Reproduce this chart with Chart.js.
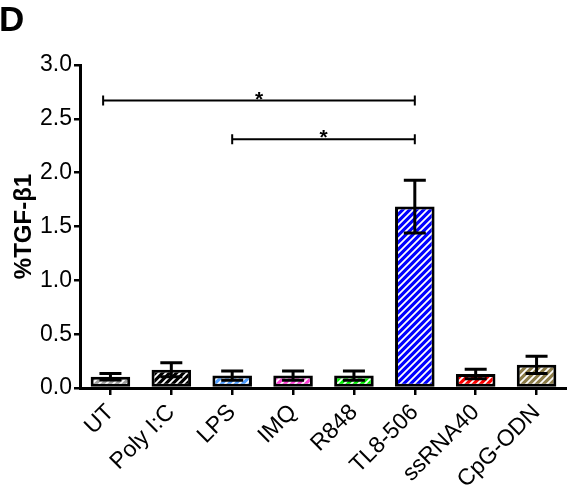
<!DOCTYPE html>
<html>
<head>
<meta charset="utf-8">
<script src="https://cdn.jsdelivr.net/npm/chart.js@4"></script>
<style>
  html, body { margin: 0; padding: 0; background: #fff; }
  #wrap { width: 567px; height: 502px; position: relative; }
</style>
</head>
<body>
<div id="wrap"><canvas id="chart" width="567" height="502"></canvas></div>
<script>
// --- DATA ---
const categories = ["UT", "Poly I:C", "LPS", "IMQ", "R848", "TL8-506", "ssRNA40", "CpG-ODN"];
const means = [0.105, 0.17, 0.115, 0.115, 0.115, 1.685, 0.13, 0.215];
const errors = [0.03, 0.065, 0.042, 0.042, 0.042, 0.245, 0.045, 0.08];
const barColors = ["#a0a0a0", "#000000", "#4f9dff", "#ff3ed6", "#00f000", "#0000ff", "#ff0000", "#8c7c48"];
const yTicks = [0, 0.5, 1.0, 1.5, 2.0, 2.5, 3.0];
// significance brackets: from category, to category, height, label
const brackets = [
    { from: -0.12, to: 5, y: 2.67, label: "*" },
    { from: 2, to: 5, y: 2.31, label: "*" }
];

// hatched fill: colour with white "/" stripes
function hatch(color) {
    const c = document.createElement("canvas");
    c.width = 7; c.height = 7;
    const g = c.getContext("2d");
    g.fillStyle = color;
    g.fillRect(0, 0, 7, 7);
    g.strokeStyle = "#ffffff";
    g.lineWidth = 1.8;
    g.beginPath();
    g.moveTo(-1, 8); g.lineTo(8, -1);
    g.moveTo(-4, 4); g.lineTo(4, -4);
    g.moveTo(3, 11); g.lineTo(11, 3);
    g.stroke();
    return g.createPattern(c, "repeat");
}

// error bars + brackets + panel letter
const extrasPlugin = {
    id: "extras",
    afterDatasetsDraw(chart) {
        const ctx = chart.ctx;
        const x = chart.scales.x, y = chart.scales.y;
        ctx.save();
        ctx.strokeStyle = "#000";
        ctx.lineWidth = 3;
        means.forEach((m, i) => {
            const px = x.getPixelForValue(i);
            const top = y.getPixelForValue(m + errors[i]);
            const bot = y.getPixelForValue(m - errors[i]);
            const cap = 11;
            ctx.beginPath();
            ctx.moveTo(px, top); ctx.lineTo(px, bot);
            ctx.moveTo(px - cap, top); ctx.lineTo(px + cap, top);
            ctx.moveTo(px - cap, bot); ctx.lineTo(px + cap, bot);
            ctx.stroke();
        });

        ctx.lineWidth = 2;
        ctx.fillStyle = "#000";
        ctx.font = "bold 21px 'Liberation Sans', Arial, sans-serif";
        ctx.textAlign = "center";
        ctx.textBaseline = "alphabetic";
        brackets.forEach(b => {
            const x1 = x.getPixelForValue(b.from);
            const x2 = x.getPixelForValue(b.to);
            const py = y.getPixelForValue(b.y);
            ctx.beginPath();
            ctx.moveTo(x1, py); ctx.lineTo(x2, py);
            ctx.moveTo(x1, py - 5); ctx.lineTo(x1, py + 5);
            ctx.moveTo(x2, py - 5); ctx.lineTo(x2, py + 5);
            ctx.stroke();
            ctx.fillText(b.label, (x1 + x2) / 2, py + 5);
        });

        ctx.font = "bold 35px 'Liberation Sans', Arial, sans-serif";
        ctx.textAlign = "left";
        ctx.textBaseline = "alphabetic";
        ctx.fillText("D", -1, 31);
        ctx.restore();
    }
};

const tickFont = { family: "'Liberation Sans', Arial, sans-serif", size: 23 };

new Chart(document.getElementById("chart"), {
    type: "bar",
    data: {
        labels: categories,
        datasets: [{
            data: means,
            backgroundColor: barColors.map(hatch),
            borderColor: "#000",
            borderWidth: 3,
            borderSkipped: false,
            categoryPercentage: 1,
            barPercentage: 0.65
        }]
    },
    options: {
        responsive: false,
        animation: false,
        devicePixelRatio: 1,
        layout: { padding: { top: 65, right: 0, left: 0, bottom: 0 } },
        plugins: { legend: { display: false }, tooltip: { enabled: false } },
        scales: {
            x: {
                offset: true,
                grid: { display: true, offset: false, drawOnChartArea: false, drawTicks: true, tickLength: 7, color: "#000", lineWidth: 2.5 },
                border: { display: true, color: "#000", width: 3 },
                ticks: { color: "#000", font: { family: tickFont.family, size: 23 }, maxRotation: 45, minRotation: 45, autoSkip: false, padding: 4 },
                afterFit(scale) { scale.height = 114; }
            },
            y: {
                min: 0,
                max: 3,
                afterBuildTicks(scale) { scale.ticks = yTicks.map(v => ({ value: v })); },
                grid: { display: true, drawOnChartArea: false, drawTicks: true, tickLength: 6, color: "#000", lineWidth: 2.5 },
                border: { display: true, color: "#000", width: 3 },
                ticks: { color: "#000", font: tickFont, padding: 2, callback: v => v.toFixed(1) },
                title: {
                    display: true,
                    text: "%TGF-β1",
                    color: "#000",
                    font: { family: "'Liberation Sans', Arial, sans-serif", size: 24, weight: "bold" },
                    padding: { top: 10, bottom: 0 }
                },
                afterFit(scale) { scale.width = 80; }
            }
        }
    },
    plugins: [extrasPlugin]
});
</script>
</body>
</html>
